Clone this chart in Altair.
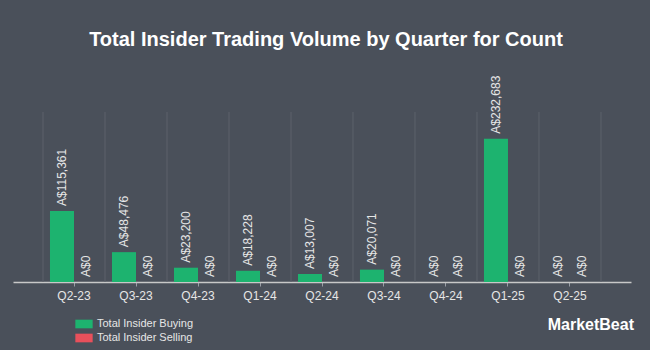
import altair as alt
import pandas as pd

quarters = ["Q2-23", "Q3-23", "Q4-23", "Q1-24", "Q2-24", "Q3-24", "Q4-24", "Q1-25", "Q2-25"]
buying = [115361, 48476, 23200, 18228, 13007, 20071, 0, 232683, 0]
selling = [0, 0, 0, 0, 0, 0, 0, 0, 0]
series_names = ["Total Insider Buying", "Total Insider Selling"]
series_colors = ["#1db36f", "#e8505b"]
title_text = "Total Insider Trading Volume by Quarter for Count"

BG = "#4a505a"
GRID = "#5c616b"
TEXT = "#e6e6e6"

rows = []
for q, b, s in zip(quarters, buying, selling):
    rows.append({"quarter": q, "series": series_names[0], "value": b})
    rows.append({"quarter": q, "series": series_names[1], "value": s})
df = pd.DataFrame(rows)

xscale = alt.Scale(domain=quarters, paddingInner=0, paddingOuter=0.484)
xaxis = alt.Axis(
    labelAngle=0,
    labelFontSize=12,
    labelColor=TEXT,
    labelFont="Liberation Sans",
    labelPadding=4,
    tickColor="#9a9ea6",
    tickSize=4,
    domainColor="#c8c8c8",
    domainWidth=1.5,
    grid=False,
    title=None,
)
xoff = alt.XOffset("series:N", scale=alt.Scale(domain=series_names, paddingInner=0, paddingOuter=0.29))
yenc = alt.Y("value:Q", scale=alt.Scale(domain=[0, 276000]), axis=None)

grid = alt.Chart(pd.DataFrame({"quarter": quarters})).mark_rule(color=GRID, strokeWidth=1).encode(
    x=alt.X("quarter:N", scale=xscale, bandPosition=0, axis=xaxis)
)
grid_end = alt.Chart(pd.DataFrame({"quarter": quarters[-1:]})).mark_rule(color=GRID, strokeWidth=1).encode(
    x=alt.X("quarter:N", scale=xscale, bandPosition=1, axis=xaxis)
)

bars = alt.Chart(df).mark_bar().encode(
    x=alt.X("quarter:N", scale=xscale, axis=xaxis),
    xOffset=xoff,
    y=yenc,
    color=alt.Color(
        "series:N",
        scale=alt.Scale(domain=series_names, range=series_colors),
        legend=alt.Legend(
            title=None,
            orient="none",
            legendX=62,
            legendY=203,
            symbolType="M-1,-0.5H1V0.5H-1Z",
            symbolSize=300,
            symbolStrokeWidth=0,
            symbolOpacity=1,
            labelColor=TEXT,
            labelFontSize=11,
            labelFont="Liberation Sans",
            labelOffset=4,
            rowPadding=0,
        ),
    ),
)

labels = alt.Chart(df).transform_calculate(
    label="'A$' + format(datum.value, ',')"
).mark_text(
    angle=270, align="left", baseline="middle", dx=5, fontSize=12, color=TEXT, font="Liberation Sans"
).encode(
    x=alt.X("quarter:N", scale=xscale, axis=xaxis),
    xOffset=xoff,
    y=yenc,
    text="label:N",
)

title = alt.Chart(pd.DataFrame({"t": [title_text]})).mark_text(
    align="center", baseline="alphabetic", fontSize=20, fontWeight="bold", color="#ffffff", font="Liberation Sans"
).encode(text="t:N", x=alt.value(313), y=alt.value(-66))

logo = alt.Chart(pd.DataFrame({"t": ["MarketBeat"]})).mark_text(
    align="right", baseline="middle", fontSize=16, fontWeight="bold", color="#ffffff", font="Liberation Sans"
).encode(text="t:N", x=alt.value(621), y=alt.value(213))

chart = alt.layer(grid, grid_end, bars, labels, title, logo).properties(
    width=618,
    height=170,
    autosize="none",
    padding={"left": 13, "top": 112, "right": 19, "bottom": 68},
).configure(background=BG).configure_view(stroke=None)

chart.save("out.html", embed_options={"renderer": "svg", "actions": False})
